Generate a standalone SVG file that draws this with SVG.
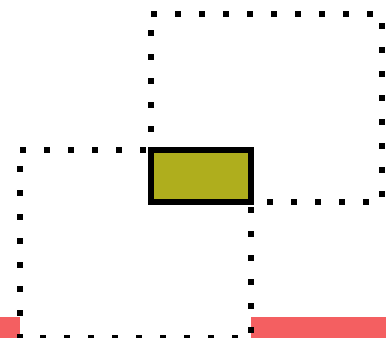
<svg xmlns="http://www.w3.org/2000/svg" width="386" height="338" viewBox="0 0 386 338">
  <style>
    .bar { fill: #f45f61; }
    .region { fill: none; stroke: #000000; stroke-width: 6; stroke-dasharray: 6 18; stroke-linecap: butt; }
    .node { fill: #afae1d; stroke: #000000; stroke-width: 6; }
  </style>
  <rect width="386" height="338" fill="#ffffff"/>
  <g id="bars">
    <rect class="bar" x="0" y="317" width="20" height="21"/>
    <rect class="bar" x="251" y="317" width="135" height="21"/>
  </g>
  <g id="region-top">
    <rect class="region" x="151" y="14" width="231" height="188"/>
  </g>
  <g id="region-bottom">
    <rect class="region" x="20" y="150" width="231" height="188"/>
  </g>
  <g id="connectors"></g>
  <g id="node-intersection">
    <rect class="node" x="151" y="150" width="100" height="52"/>
  </g>
</svg>
